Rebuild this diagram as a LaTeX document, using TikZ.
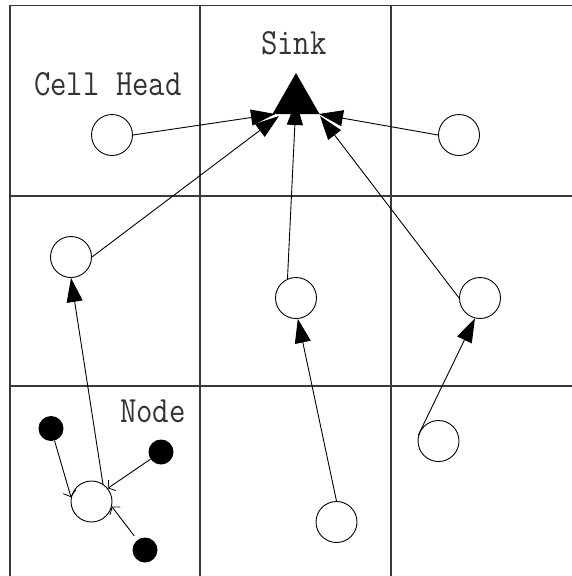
\documentclass[tikz,border=0pt]{standalone}
\usetikzlibrary{arrows.meta}
\definecolor{gridgray}{HTML}{3A3A3A}
\definecolor{labelgray}{HTML}{333333}
\begin{document}
\begin{tikzpicture}[x=1pt,y=-1pt,
  gridline/.style={draw=gridgray,line width=1.3pt},
  sensor/.style={circle,draw=black,line width=0.9pt,fill=white,minimum size=41pt,inner sep=0pt},
  member/.style={circle,fill=black,minimum size=25pt,inner sep=0pt},
  link/.style={draw=black,line width=0.9pt},
  bigarrow/.style={link,-{Triangle[length=24pt,width=16pt]}},
  barb/.style={link,-{Straight Barb[length=5pt,width=13pt,line width=0.8pt]}},
  lbl/.style={text=labelgray,inner sep=0pt,anchor=base west,font=\fontsize{37}{37}\selectfont\ttfamily}]
\useasboundingbox (0,0) rectangle (572,576);
\fill[white] (0,0) rectangle (572,576);

% 3x3 cell grid
\draw[gridline] (10,576) -- (10,5.5) -- (572,5.5);
\draw[gridline] (200,5.5) -- (200,576);
\draw[gridline] (391,5.5) -- (391,576);
\draw[gridline] (10,196) -- (572,196);
\draw[gridline] (10,386) -- (572,386);

% labels
\node[lbl] (lblhead) at (34,95) {\scalebox{0.86}[1]{Cell Head}};
\node[lbl] (lblsink) at (261,54) {\scalebox{0.86}[1]{Sink}};
\node[lbl] (lblnode) at (120,422) {\scalebox{0.86}[1]{Node}};

% sink (filled triangle) and the points where arrows meet it
\coordinate (sinkA) at (296,73);
\coordinate (sinkL) at (272.5,114);
\coordinate (sinkR) at (319.5,114);
\coordinate (inA) at (275,114);
\coordinate (inB) at (279,116);
\coordinate (inC) at (296,101);
\coordinate (inD) at (319,114);
\coordinate (inE) at (320,116);
\fill[black] (sinkA) -- (sinkL) -- (sinkR) -- cycle;

% cell heads and nodes
\node[sensor] (ch) at (112,135) {};
\node[sensor] (tr) at (459,135) {};
\node[sensor] (ml) at (71,257) {};
\node[sensor] (mc) at (296,298) {};
\node[sensor] (mr) at (480,298) {};
\node[sensor] (br) at (438.5,441) {};
\node[sensor] (bc) at (336.5,522) {};
\node[sensor] (nb) at (91.5,501.5) {};
\node[member] (d1) at (51,428.5) {};
\node[member] (d2) at (161,452) {};
\node[member] (d3) at (145,550) {};

% routes to the sink
\draw[bigarrow] (ch.east) -- (inA);
\draw[bigarrow] (ml.east) -- (inB);
\draw[bigarrow] (mc.114) -- (inC);
\draw[bigarrow] (tr.west) -- (inD);
\draw[bigarrow] (mr.west) -- (inE);

% routes between cells
\draw[bigarrow] (nb.57) -- (ml.south);
\draw[bigarrow] (bc.north) -- (mc.-85);
\draw[bigarrow] (br.163) -- (mr.-104);

% members reporting to their cell head
\draw[barb] (d1) -- (nb.168);
\draw[barb] (d2) -- (nb.39);
\draw[barb,shorten <=5pt] (d3) -- (nb.-14);
\end{tikzpicture}
\end{document}
